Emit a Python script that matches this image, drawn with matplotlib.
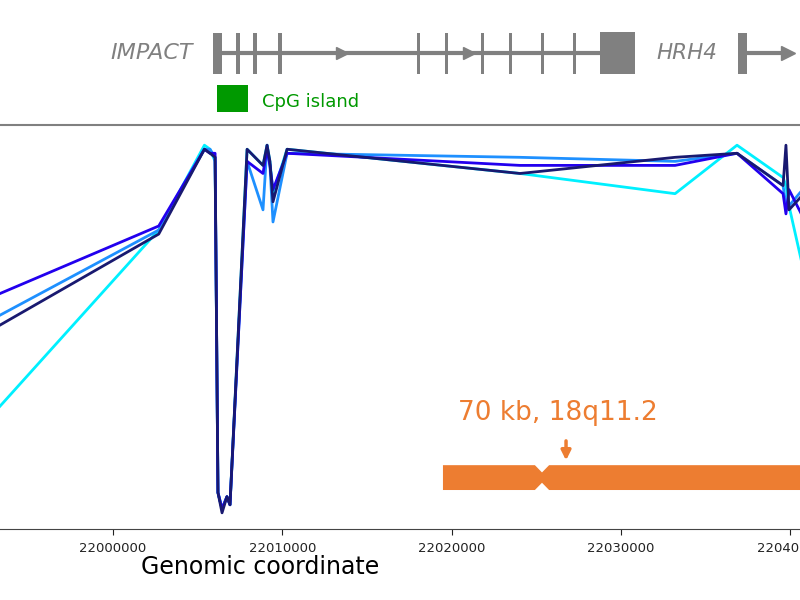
import numpy as np
import matplotlib
matplotlib.use("Agg")
from matplotlib import pyplot as plt
from matplotlib.patches import Polygon, Rectangle

# probe positions (chr18) and methylation levels per sample
positions = [21989800, 22002700, 22005400, 22005730, 22006030, 22006200, 22006440,
             22006730, 22006910, 22007920, 22008860, 22009100, 22009270, 22009450,
             22010280, 22024040, 22033200, 22036860, 22039580, 22039750, 22039930,
             22042350]

cyan_vals = [0.14, 0.74, 0.95, 0.94, 0.91, 0.09, 0.05, 0.08, 0.06, 0.94, 0.90,
             0.95, 0.91, 0.83, 0.94, 0.88, 0.83, 0.95, 0.87, 0.85, 0.80, 0.35]
dodger_vals = [0.45, 0.74, 0.94, 0.94, 0.92, 0.09, 0.05, 0.08, 0.06, 0.91, 0.79,
               0.95, 0.90, 0.76, 0.93, 0.92, 0.91, 0.93, 0.85, 0.80, 0.80, 0.92]
blue_vals = [0.52, 0.75, 0.94, 0.93, 0.93, 0.09, 0.05, 0.08, 0.06, 0.91, 0.88,
             0.94, 0.90, 0.84, 0.93, 0.90, 0.90, 0.93, 0.83, 0.78, 0.84, 0.64]
navy_vals = [0.42, 0.73, 0.94, 0.93, 0.92, 0.09, 0.04, 0.08, 0.06, 0.94, 0.90,
             0.95, 0.91, 0.81, 0.94, 0.88, 0.92, 0.93, 0.85, 0.95, 0.79, 0.90]

series = [cyan_vals, dodger_vals, blue_vals, navy_vals]
colors = ['#00f0ff', '#1e90ff', '#2200ee', '#191970']

# gene model (IMPACT, HRH4) in genomic coordinates
impact_first_exon = (22005900, 22006430)
impact_small_exons = [22007380, 22008390, 22009860, 22018050, 22019700,
                      22021830, 22023480, 22025370, 22027260]
impact_last_exon = (22028770, 22030840)
impact_arrows = [22013500, 22021000]
hrh4_exon = (22036920, 22037450)
hrh4_end = 22039850
cpg_island = (22006140, 22007970)

xmin, xmax = 21993325, 22040580
gray = '#808080'
orange = '#ed7d31'

fig = plt.figure(figsize=(8, 6), dpi=100)

# main methylation panel
ax = fig.add_axes([0, 71/600, 1, 404/600])
for vals, c in zip(series, colors):
    ax.plot(positions, vals, color=c, lw=2)
ax.set_xlim(xmin, xmax)
ax.set_ylim(0, 1)
ax.spines['left'].set_visible(False)
ax.spines['right'].set_visible(False)
ax.spines['top'].set_color(gray)
ax.spines['top'].set_linewidth(1.5)
ax.spines['bottom'].set_color('#444444')
ax.set_yticks([])
ax.set_xticks([22000000, 22010000, 22020000, 22030000, 22040000])
ax.ticklabel_format(axis='x', useOffset=False, style='plain')
ax.tick_params(axis='x', length=4, pad=5, labelsize=9.5, colors='#222222')
fig.text(260/800, 1 - 567/600, 'Genomic coordinate', fontsize=17,
         ha='center', va='center')

# chromosome ideogram
cen = 22025340
y0, y1, notch = 0.0965, 0.158, 0.018
ideo = Polygon([(22019490, y1), (cen - 420, y1), (cen, y1 - notch), (cen + 420, y1),
                (22043000, y1), (22043000, y0), (cen + 420, y0), (cen, y0 + notch),
                (cen - 420, y0), (22019490, y0)], closed=True, color=orange, lw=0)
ax.add_patch(ideo)
ax.annotate('', xy=(22026760, 0.163), xytext=(22026760, 0.225),
            arrowprops=dict(arrowstyle='-|>', color=orange, lw=2.5, mutation_scale=14))
ax.text(22026300, 0.287, '70 kb, 18q11.2', color=orange, fontsize=19,
        ha='center', va='center')

# gene track
gx = fig.add_axes([0, 1 - 125/600, 1, 125/600])
gx.set_xlim(xmin, xmax)
gx.set_ylim(0, 1)
gx.axis('off')
ymid = 0.576
gx.plot([impact_first_exon[1], impact_last_exon[0]], [ymid, ymid], color=gray, lw=3)
gx.add_patch(Rectangle((impact_first_exon[0], 0.408), impact_first_exon[1] - impact_first_exon[0],
                       0.328, color=gray, lw=0))
for e in impact_small_exons:
    gx.add_patch(Rectangle((e - 110, 0.408), 220, 0.328, color=gray, lw=0))
gx.add_patch(Rectangle((impact_last_exon[0], 0.408), impact_last_exon[1] - impact_last_exon[0],
                       0.336, color=gray, lw=0))
gx.plot(impact_arrows, [ymid] * len(impact_arrows), ls='none', marker='>',
        color=gray, ms=9)
gx.text(22004700, ymid, 'IMPACT', style='italic', color=gray, fontsize=16,
        ha='right', va='center')

gx.add_patch(Rectangle((hrh4_exon[0], 0.408), hrh4_exon[1] - hrh4_exon[0], 0.328,
                       color=gray, lw=0))
gx.plot([hrh4_exon[1], hrh4_end], [ymid, ymid], color=gray, lw=3)
gx.plot([hrh4_end], [ymid], marker='>', color=gray, ms=10)
gx.text(22035700, ymid, 'HRH4', style='italic', color=gray, fontsize=15.5,
        ha='right', va='center')

gx.add_patch(Rectangle((cpg_island[0], 0.104), cpg_island[1] - cpg_island[0], 0.216,
                       color='#009900', lw=0))
gx.text(22008800, 0.184, 'CpG island', color='#009900', fontsize=13, va='center')

fig.savefig('out.png', dpi=100)
